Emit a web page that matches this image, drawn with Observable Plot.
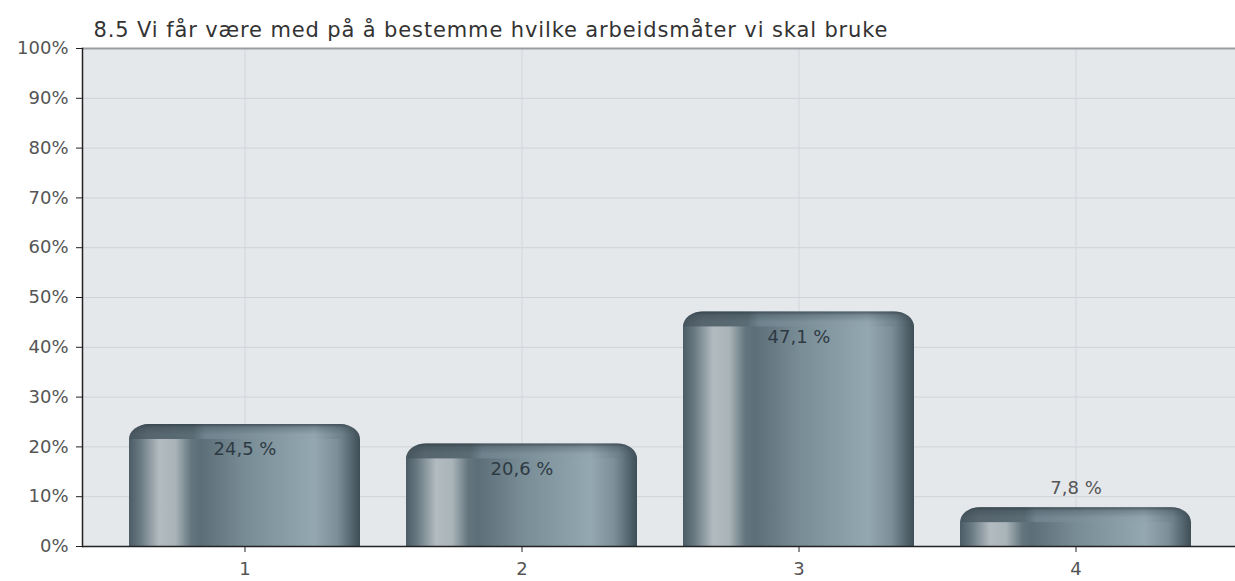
<!DOCTYPE html>
<html>
<head>
<meta charset="utf-8">
<script src="https://cdn.jsdelivr.net/npm/d3@7"></script>
<script src="https://cdn.jsdelivr.net/npm/@observablehq/plot@0.6"></script>
<style>
  html, body { margin: 0; padding: 0; background: #ffffff; }
  #chart svg { display: block; }
</style>
</head>
<body>
<div id="chart"></div>
<script>
const title = "8.5 Vi får være med på å bestemme hvilke arbeidsmåter vi skal bruke";
const categories = ["1", "2", "3", "4"];
const values = [24.5, 20.6, 47.1, 7.8];
const valueLabels = ["24,5 %", "20,6 %", "47,1 %", "7,8 %"];
const yTicks = [0, 10, 20, 30, 40, 50, 60, 70, 80, 90, 100];

const data = categories.map((c, i) => ({cat: c, value: values[i], label: valueLabels[i]}));

const defs = () => {
  const g = d3.create("svg:defs");
  const body = g.append("linearGradient").attr("id", "bodyGrad").attr("x1", 0).attr("x2", 1).attr("y1", 0).attr("y2", 0);
  [[0, "#4c5c66"], [0.05, "#6a7a83"], [0.13, "#b2bbc0"], [0.2, "#a9b4b9"], [0.27, "#64757e"],
   [0.31, "#5c6e78"], [0.5, "#788c96"], [0.8, "#94a8b1"], [0.9, "#7d909a"], [1, "#3e4e57"]]
    .forEach(([o, c]) => body.append("stop").attr("offset", o).attr("stop-color", c));
  const cap = g.append("linearGradient").attr("id", "capGrad").attr("x1", 0).attr("x2", 1).attr("y1", 0).attr("y2", 0);
  [[0, "#46555e"], [0.08, "#56656e"], [0.28, "#5b6c75"], [0.33, "#6e838d"], [0.5, "#7a8e98"], [0.8, "#92a6af"], [0.92, "#6e818b"], [1, "#3e4d56"]]
    .forEach(([o, c]) => cap.append("stop").attr("offset", o).attr("stop-color", c));
  const shade = g.append("linearGradient").attr("id", "capShade").attr("x1", 0).attr("x2", 0).attr("y1", 0).attr("y2", 1);
  [[0, "#2c3840", 0.7], [0.12, "#2c3840", 0.25], [0.35, "#2c3840", 0]]
    .forEach(([o, c, a]) => shade.append("stop").attr("offset", o).attr("stop-color", c).attr("stop-opacity", a));
  return g.node();
};

const chart = Plot.plot({
  width: 1235,
  height: 581,
  marginLeft: 82,
  marginRight: 0,
  marginTop: 48,
  marginBottom: 35,
  style: {fontFamily: "DejaVu Sans", fontSize: "18px", background: "#ffffff", overflow: "visible"},
  x: {domain: categories, paddingInner: 0.165, paddingOuter: 0.158, align: 0.52, label: null},
  y: {domain: [0, 100], label: null},
  marks: [
    defs,
    Plot.frame({fill: "#e5e8eb", stroke: null}),
    Plot.gridY(yTicks, {stroke: "#cfd3d7", strokeOpacity: 1}),
    Plot.gridX({stroke: "#d3d6da", strokeOpacity: 1}),
    Plot.ruleY([100], {stroke: "#9a9ea2", strokeWidth: 2}),
    Plot.barY(data, {x: "cat", y1: "value", y2: "value", insetBottom: -30, rx: 20, ry: 16, fill: "url(#capGrad)"}),
    Plot.barY(data, {x: "cat", y1: "value", y2: "value", insetBottom: -30, rx: 20, ry: 16, fill: "url(#capShade)"}),
    Plot.barY(data, {x: "cat", y1: 0, y2: "value", insetTop: 15, fill: "url(#bodyGrad)"}),
    Plot.text(data.filter(d => d.value >= 15), {x: "cat", y: "value", text: "label", dy: 31, lineAnchor: "bottom", fill: "#2e3a43", fontSize: 18}),
    Plot.text(data.filter(d => d.value < 15), {x: "cat", y: "value", text: "label", dy: -14, lineAnchor: "bottom", fill: "#555555", fontSize: 18}),
    Plot.ruleY([0], {stroke: "#222222", strokeWidth: 1.5}),
    Plot.frame({anchor: "left", stroke: "#222222", strokeWidth: 1.5}),
    Plot.axisY(yTicks, {tickSize: 6, tickPadding: 8, tickFormat: d => d + "%", stroke: "#222222", fill: "#555555", fontSize: 18, label: null}),
    Plot.axisX({tickSize: 6, tickPadding: 10, stroke: "#222222", fill: "#555555", fontSize: 18, label: null}),
    Plot.text([title], {frameAnchor: "top-left", dx: 11, dy: -12, lineAnchor: "bottom", textAnchor: "start", fill: "#333333", fontSize: 21})
  ]
});
d3.select(chart).selectAll("text").filter(function () { return this.textContent === title; })
  .attr("textLength", 794).attr("lengthAdjust", "spacing");
document.getElementById("chart").appendChild(chart);
</script>
</body>
</html>
